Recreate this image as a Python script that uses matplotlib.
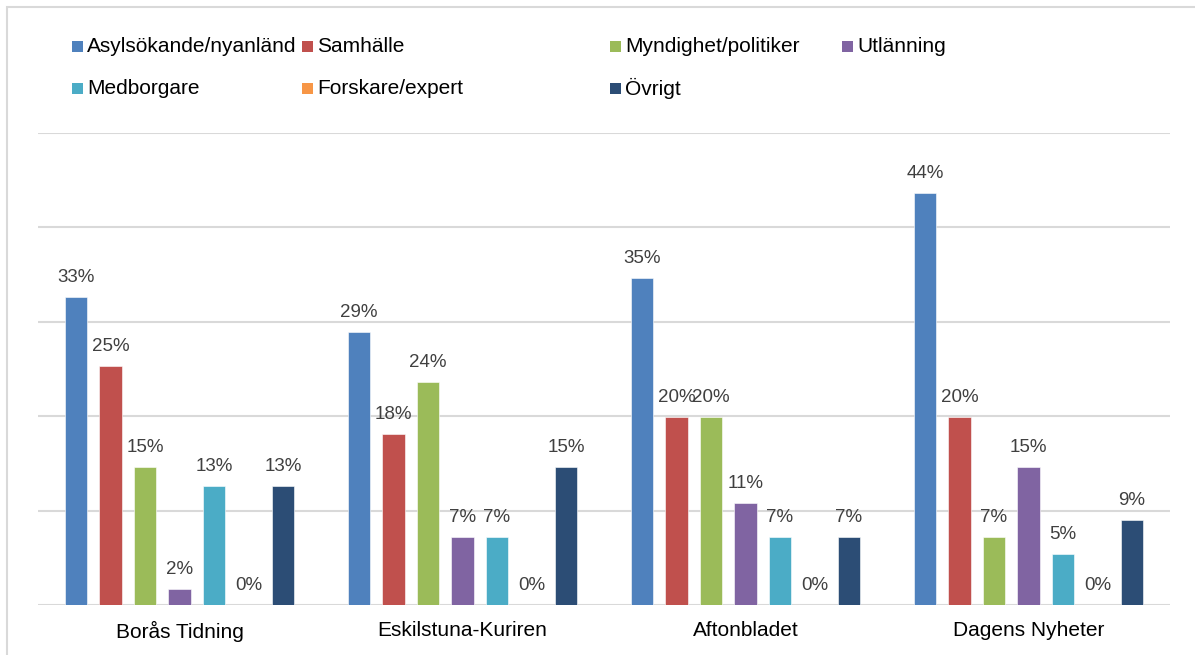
import numpy as np
import matplotlib
matplotlib.use("Agg")
import matplotlib.pyplot as plt
from matplotlib.patches import Rectangle

plt.rcParams['font.family'] = ['Liberation Sans', 'DejaVu Sans']

# data (percent)
papers = ['Borås Tidning', 'Eskilstuna-Kuriren', 'Aftonbladet', 'Dagens Nyheter']
series = ['Asylsökande/nyanländ', 'Samhälle', 'Myndighet/politiker', 'Utlänning',
          'Medborgare', 'Forskare/expert', 'Övrigt']
asyl = [32.6, 28.9, 34.6, 43.6]
samhalle = [25.3, 18.1, 19.9, 19.9]
myndighet = [14.6, 23.6, 19.9, 7.2]
utlanning = [1.7, 7.2, 10.8, 14.6]
medborgare = [12.6, 7.2, 7.2, 5.4]
forskare = [0, 0, 0, 0]
ovrigt = [12.6, 14.6, 7.2, 9.0]
values = [asyl, samhalle, myndighet, utlanning, medborgare, forskare, ovrigt]

colors = ['#4F81BD', '#C0504D', '#9BBB59', '#8064A2', '#4BACC6', '#F79646', '#2C4D75']

W, H = 1195, 655
fig = plt.figure(figsize=(W / 100, H / 100), dpi=100)

# light grey frame around the chart area (cut off at right/bottom as in the source)
fig.patches.append(Rectangle((7 / W, -0.01), 1.1, (H - 7) / H + 0.01,
                             transform=fig.transFigure, fill=False,
                             edgecolor='#D9D9D9', linewidth=1.5))

ax = fig.add_axes([38 / W, (H - 605) / H, (1170 - 38) / W, (605 - 133) / H])

x = np.arange(len(papers))
step = 0.1219
width = 0.081
for i, (name, vals) in enumerate(zip(series, values)):
    pos = x + (i - 3) * step
    ax.bar(pos, vals, width, color=colors[i], edgecolor='white', linewidth=0.4,
           zorder=3, label=name)
    for px, v in zip(pos, vals):
        ax.annotate(f"{v:.0f}%", (px, v), xytext=(0, 11), textcoords='offset points',
                    ha='center', va='baseline', fontsize=13.5, color='#404040')

ax.set_xlim(-0.5, 3.5)
ax.set_ylim(0, 50)
ax.set_yticks(np.arange(0, 51, 10))
ax.yaxis.grid(True, color='#D9D9D9', linewidth=1.5, zorder=0)
ax.tick_params(axis='y', left=False, labelleft=False)
ax.tick_params(axis='x', bottom=False, labelsize=15, pad=8, colors='#000000')
ax.set_xticks(x)
ax.set_xticklabels(papers)
for s in ['top', 'right', 'left', 'bottom']:
    ax.spines[s].set_visible(False)

# legend entries placed like the Excel legend (pixel positions)
leg_pos = [(72, 46), (302, 46), (610, 46), (842, 46),
           (72, 88), (302, 88), (610, 88)]
for (lx, ly), name, c in zip(leg_pos, series, colors):
    fig.patches.append(Rectangle((lx / W, (H - ly - 5.5) / H), 11 / W, 11 / H,
                                 transform=fig.transFigure, facecolor=c,
                                 edgecolor='none'))
    fig.text((lx + 15) / W, (H - ly) / H, name, fontsize=15, va='center',
             ha='left', color='#000000')

fig.savefig('out.png', dpi=100)
